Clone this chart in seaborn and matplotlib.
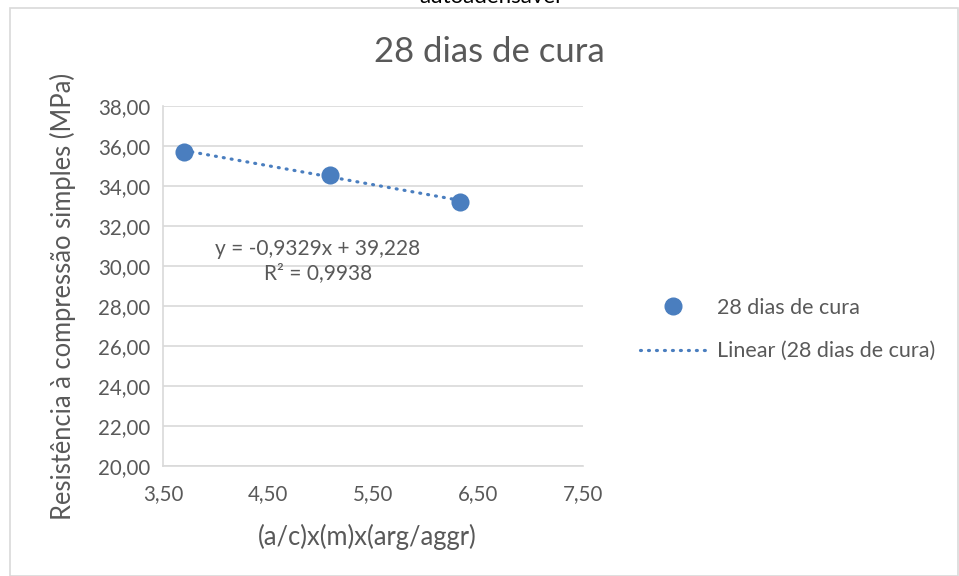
import numpy as np
import pandas as pd
import matplotlib
matplotlib.use("Agg")
import matplotlib.pyplot as plt
from matplotlib.lines import Line2D
from matplotlib.patches import Rectangle
import seaborn as sns

# Data
x_vals = [3.70, 5.09, 6.33]
y_vals = [35.72, 34.57, 33.22]
series_name = "28 dias de cura"
trend_name = "Linear (28 dias de cura)"
x_ticks = [3.5, 4.5, 5.5, 6.5, 7.5]
y_ticks = [20, 22, 24, 26, 28, 30, 32, 34, 36, 38]
eq_text = "y = -0,9329x + 39,228\nR² = 0,9938"

sns.set_theme(style="white")
plt.rcParams['font.family'] = ['Lato', 'DejaVu Sans']

BLUE = "#4a7ebf"
TXT = "#595959"
GRID = "#d9d9d9"

fig = plt.figure(figsize=(9.59, 5.76), dpi=100)
ax = fig.add_axes([163/959, 1-466/576, 420/959, 360/576])

df = pd.DataFrame({"x": x_vals, "y": y_vals})
coef = np.polyfit(df["x"], df["y"], 1)
xt = np.array([min(x_vals), max(x_vals)])
tdf = pd.DataFrame({"x": xt, "y": np.polyval(coef, xt)})

DOT = (0, (0.3, 2.2))
sns.lineplot(data=tdf, x="x", y="y", ax=ax, color=BLUE, linewidth=2.3,
             linestyle=DOT, dash_capstyle="round", zorder=3)
sns.scatterplot(data=df, x="x", y="y", ax=ax, color=BLUE, s=170,
                edgecolor=BLUE, linewidth=0, zorder=4)

ax.set_xlim(3.5, 7.5)
ax.set_ylim(20, 38)
ax.set_xticks(x_ticks)
ax.set_yticks(y_ticks)
ax.set_xticklabels([f"{v:.2f}".replace(".", ",") for v in x_ticks])
ax.set_yticklabels([f"{v:.2f}".replace(".", ",") for v in y_ticks])
ax.tick_params(axis="y", labelsize=14.8, colors=TXT, length=0, pad=9)
ax.tick_params(axis="x", labelsize=14.8, colors=TXT, length=0, pad=13)
ax.grid(axis="y", color=GRID, linewidth=1.2)
ax.grid(axis="x", visible=False)
for s in ["top", "right"]:
    ax.spines[s].set_visible(False)
ax.spines["left"].set_color(GRID)
ax.spines["bottom"].set_color(GRID)
ax.spines["left"].set_linewidth(1.2)
ax.spines["bottom"].set_linewidth(1.2)
ax.set_axisbelow(True)

ax.set_xlabel("(a/c)x(m)x(arg/aggr)", fontsize=18.4, color=TXT)
ax.set_ylabel("Resistência à compressão simples (MPa)", fontsize=18.4, color=TXT)
ax.xaxis.set_label_coords(367/959, 1-537/576, transform=fig.transFigure)
ax.xaxis.label.set_va("center")
ax.yaxis.set_label_coords(63/959, 1-296.5/576, transform=fig.transFigure)
ax.yaxis.label.set_va("center")

fig.text(489/959, 1-52/576, "28 dias de cura", fontsize=25, color=TXT,
         ha="center", va="center")
fig.text(318/959, 1-261/576, eq_text, fontsize=15, color=TXT,
         ha="center", va="center", linespacing=1.2)

# chart frame and cut-off text above
fig.add_artist(Rectangle((10/959, 0), 948/959, 1-8/576, transform=fig.transFigure,
                         fill=False, edgecolor="#d9d9d9", linewidth=1.2))
fig.text(490/959, 1-3/576, "autoadensável", fontsize=16, color="#000000",
         ha="center", va="baseline")

handles = [
    Line2D([], [], marker="o", linestyle="none", color=BLUE, markersize=12),
    Line2D([], [], color=BLUE, linewidth=2.3, linestyle=DOT,
           dash_capstyle="round"),
]
leg = fig.legend(handles, [series_name, trend_name], loc="center left",
                 bbox_to_anchor=(640/959, 1-329.5/576), frameon=False,
                 fontsize=15.5, handlelength=3.07, handletextpad=0.5,
                 labelspacing=1.1, labelcolor=TXT, borderpad=0,
                 borderaxespad=0)

fig.savefig("out.png", dpi=100)
